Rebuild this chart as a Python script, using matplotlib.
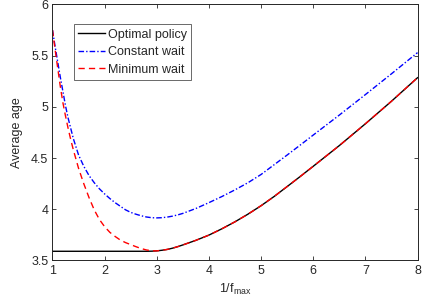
import matplotlib
matplotlib.use("Agg")
import matplotlib.pyplot as plt

plt.rcParams['font.family'] = ['Liberation Sans', 'DejaVu Sans']
plt.rcParams['mathtext.fontset'] = 'custom'
plt.rcParams['mathtext.rm'] = 'Liberation Sans'
plt.rcParams['mathtext.it'] = 'Liberation Sans'

# values
x_opt = [1.0, 2.8, 2.9, 3.0, 3.1, 3.2, 3.3, 3.4, 3.5, 3.75, 4.0, 4.25, 4.5, 4.75,
         5.0, 5.25, 5.5, 5.75, 6.0, 6.5, 7.0, 7.5, 8.0]
y_opt = [3.59, 3.59, 3.591, 3.594, 3.60, 3.608, 3.62, 3.635, 3.652, 3.697, 3.748, 3.81, 3.878, 3.953,
         4.035, 4.125, 4.222, 4.32, 4.42, 4.622, 4.835, 5.055, 5.285]

x_const = [1.0, 1.05, 1.1, 1.15, 1.2, 1.25, 1.3, 1.35, 1.4, 1.5, 1.6, 1.7, 1.8, 1.9,
           2.0, 2.1, 2.2, 2.3, 2.4, 2.5, 2.6, 2.7, 2.8, 2.9, 3.0, 3.1, 3.2, 3.3, 3.4, 3.5,
           3.75, 4.0, 4.25, 4.5, 4.75, 5.0, 5.25, 5.5, 5.75, 6.0, 6.5, 7.0, 7.5, 8.0]
y_const = [5.75, 5.59, 5.44, 5.29, 5.15, 5.01, 4.89, 4.79, 4.69, 4.53, 4.42, 4.33, 4.26, 4.20,
           4.15, 4.105, 4.065, 4.03, 3.995, 3.97, 3.952, 3.937, 3.925, 3.918, 3.916, 3.918, 3.924,
           3.933, 3.945, 3.96, 4.008, 4.065, 4.125, 4.19, 4.26, 4.34, 4.435, 4.53, 4.627, 4.725,
           4.92, 5.12, 5.323, 5.53]

x_min = [1.0, 1.05, 1.1, 1.15, 1.2, 1.25, 1.3, 1.35, 1.4, 1.5, 1.6, 1.7, 1.8, 1.9,
         2.0, 2.1, 2.2, 2.3, 2.4, 2.5, 2.6, 2.7, 2.8, 2.9, 3.0, 3.1, 3.2, 3.3, 3.4, 3.5,
         3.75, 4.0, 4.25, 4.5, 4.75, 5.0, 5.25, 5.5, 5.75, 6.0, 6.5, 7.0, 7.5, 8.0]
y_min = [5.75, 5.56, 5.38, 5.20, 5.04, 4.91, 4.79, 4.68, 4.58, 4.40, 4.25, 4.115, 3.995, 3.90,
         3.83, 3.775, 3.735, 3.70, 3.675, 3.655, 3.635, 3.617, 3.603, 3.595, 3.594, 3.60, 3.608,
         3.62, 3.635, 3.652, 3.697, 3.748, 3.81, 3.878, 3.953, 4.035, 4.125, 4.222, 4.32, 4.42,
         4.622, 4.835, 5.055, 5.285]

xticks = [1, 2, 3, 4, 5, 6, 7, 8]
yticks = [3.5, 4, 4.5, 5, 5.5, 6]
ytick_labels = ['3.5', '4', '4.5', '5', '5.5', '6']

fig = plt.figure(figsize=(4.24, 3.06), dpi=100)
ax = fig.add_axes([0.1238, 0.1487, 0.8609, 0.8366])

ax.plot(x_opt, y_opt, color='black', lw=1.0, label='Optimal policy')
ax.plot(x_const, y_const, color='blue', lw=1.0, linestyle=(0, (4, 1.5, 1, 1.5)), label='Constant wait')
ax.plot(x_min, y_min, color='red', lw=1.0, linestyle=(0, (4.5, 3)), label='Minimum wait')

ax.set_xlim(1, 8)
ax.set_ylim(3.5, 6)
ax.set_xticks(xticks)
ax.set_yticks(yticks)
ax.set_yticklabels(ytick_labels)

gray = '#262626'
for s in ax.spines.values():
    s.set_color(gray)
    s.set_linewidth(0.7)
ax.tick_params(direction='in', top=True, right=True, length=3, width=0.6,
               colors=gray, labelsize=9, pad=3)

ax.set_xlabel('1/f$_{\\mathrm{max}}$', fontsize=9, color=gray, labelpad=4)
ax.set_ylabel('Average age', fontsize=9, color=gray, labelpad=6)

leg = ax.legend(loc='upper left', bbox_to_anchor=(0.059, 0.923), fontsize=9,
                frameon=True, fancybox=False, borderpad=0.35, labelspacing=0.45,
                handlelength=2.1, handletextpad=0.25, borderaxespad=0)
leg.get_frame().set_edgecolor(gray)
leg.get_frame().set_linewidth(0.6)
for t in leg.get_texts():
    t.set_color(gray)

fig.savefig('out.png', dpi=100)
